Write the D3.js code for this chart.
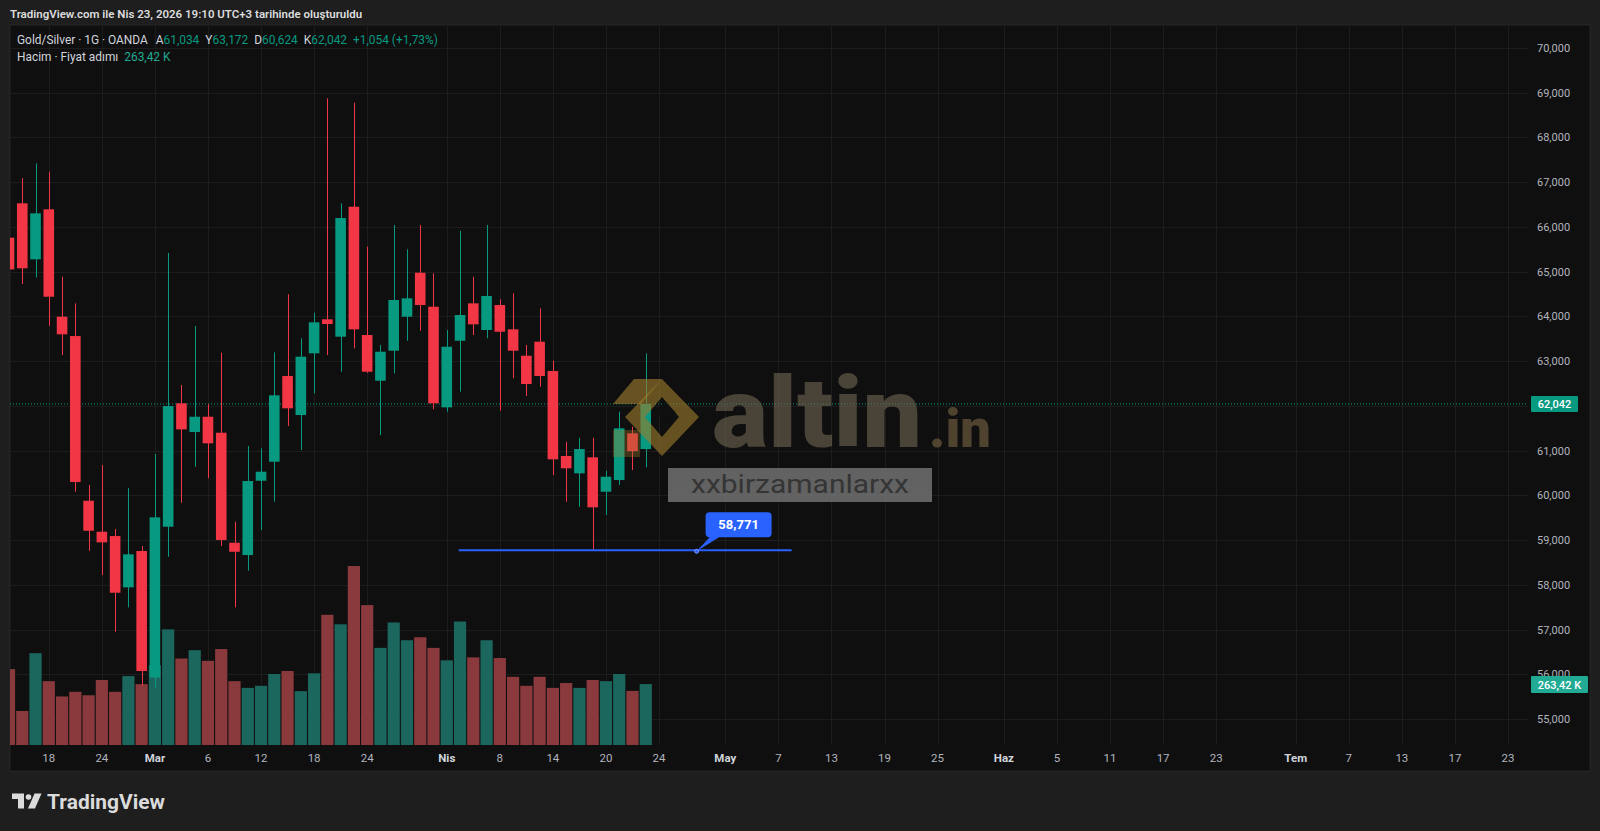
<!DOCTYPE html>
<html>
<head>
<meta charset="utf-8">
<script src="https://cdn.jsdelivr.net/npm/d3@7"></script>
<style>
    html, body { margin: 0; padding: 0; background: #1e1e1e; overflow: hidden; }
    svg { display: block; font-family: Roboto, "Liberation Sans", Arial, sans-serif; }
</style>
</head>
<body>
<svg id="chart" width="1600" height="831"></svg>
<script>
// daily bars, OANDA Gold/Silver (session index = position on the time axis)
const dates = [
    '2026-02-13', '2026-02-16', '2026-02-17', '2026-02-18', '2026-02-19', '2026-02-20', '2026-02-23',
    '2026-02-24', '2026-02-25', '2026-02-26', '2026-02-27', '2026-03-02', '2026-03-03', '2026-03-04',
    '2026-03-05', '2026-03-06', '2026-03-09', '2026-03-10', '2026-03-11', '2026-03-12', '2026-03-13',
    '2026-03-16', '2026-03-17', '2026-03-18', '2026-03-19', '2026-03-20', '2026-03-23', '2026-03-24',
    '2026-03-25', '2026-03-26', '2026-03-27', '2026-03-30', '2026-03-31', '2026-04-01', '2026-04-02',
    '2026-04-06', '2026-04-07', '2026-04-08', '2026-04-09', '2026-04-10', '2026-04-13', '2026-04-14',
    '2026-04-15', '2026-04-16', '2026-04-17', '2026-04-20', '2026-04-21', '2026-04-22', '2026-04-23'
]
const opens = [
    65.76, 66.528, 65.276, 66.394, 63.993, 63.561, 59.879, 59.186, 59.090, 57.943, 58.755, 55.927,
    59.298, 62.057, 61.415, 61.757, 61.399, 58.940, 58.665, 60.326, 60.751, 62.667, 61.795, 63.175,
    63.935, 63.546, 66.452, 63.584, 62.562, 63.233, 63.993, 64.976, 64.216, 61.967, 63.456, 64.292,
    63.696, 64.254, 63.711, 63.121, 63.434, 62.779, 60.879, 60.492, 60.850, 60.080, 60.342, 61.386, 61.034
]
const highs = [
    65.85, 67.094, 67.422, 67.234, 64.887, 64.292, 60.230, 60.677, 59.247, 60.163, 58.867, 60.923,
    65.417, 62.466, 63.785, 62.041, 63.188, 59.410, 61.102, 61.051, 63.197, 64.494, 63.510, 64.082,
    68.875, 66.528, 68.777, 65.558, 63.360, 66.043, 65.500, 66.043, 64.963, 63.696, 65.915, 64.887,
    66.043, 64.382, 64.516, 63.360, 64.181, 63.009, 61.198, 61.288, 61.288, 60.550, 61.869, 61.534, 63.172
]
const lows = [
    64.95, 64.724, 64.874, 63.792, 63.137, 60.080, 58.761, 58.218, 56.951, 57.496, 55.740, 55.700,
    58.627, 59.834, 60.639, 60.380, 58.867, 57.496, 58.314, 59.224, 59.857, 61.549, 61.013, 62.280,
    63.137, 62.763, 63.286, 62.740, 61.348, 62.727, 63.456, 63.680, 61.923, 61.869, 62.316, 63.584,
    63.510, 61.891, 62.616, 62.220, 62.428, 60.454, 59.857, 59.745, 58.771, 59.560, 60.230, 60.566, 60.624
]
const closes = [
    65.05, 65.075, 66.304, 64.440, 63.599, 60.297, 59.208, 58.949, 57.822, 58.681, 56.072, 59.508,
    61.996, 61.475, 61.757, 61.163, 59.001, 58.739, 60.320, 60.528, 62.236, 61.945, 63.099, 63.868,
    63.830, 66.199, 63.711, 62.763, 63.210, 64.366, 64.404, 64.254, 62.057, 63.322, 64.031, 63.823,
    64.456, 63.657, 63.233, 62.488, 62.667, 60.805, 60.604, 61.035, 59.732, 60.416, 61.498, 60.988, 62.042
]
// volume in thousands
const volumes = [
    328, 147, 397, 276, 210, 230, 215, 281, 230, 298, 263, 345, 500, 374, 410, 364, 415, 276, 247,
    256, 307, 320, 233, 310, 563, 522, 774, 605, 420, 530, 453, 466, 420, 366, 534, 379, 453, 376,
    295, 256, 295, 247, 268, 247, 281, 276, 307, 234, 263.42
]

const timeTickIndex = [3, 7, 11, 15, 19, 23, 27, 33, 37, 41, 45, 49, 54, 58, 62, 66, 70, 75, 79, 83, 87, 91, 97, 101, 105, 109, 113]
const timeTickLabels = ['18', '24', 'Mar', '6', '12', '18', '24', 'Nis', '8', '14', '20', '24', 'May', '7', '13', '19', '25', 'Haz', '5', '11', '17', '23', 'Tem', '7', '13', '17', '23']
const monthLabels = ['Mar', 'Nis', 'May', 'Haz', 'Tem']
const priceTicks = [55, 56, 57, 58, 59, 60, 61, 62, 63, 64, 65, 66, 67, 68, 69, 70]
const markedLow = 58.771
const markedLowIndex = 44

const upColor = '#089981', downColor = '#f23645'
const upVol = '#1b675d', downVol = '#8a3a3c'

const tr = d3.formatLocale({ decimal: ',', thousands: '.', grouping: [3], currency: ['', ''] })
const fmtPrice = tr.format('.3f')
const fmtPct = tr.format('+.2f')

const bars = dates.map((d, i) => ({
    date: d, i, o: opens[i], h: highs[i], l: lows[i], c: closes[i], v: volumes[i]
}))
const last = bars[bars.length - 1]
const prev = bars[bars.length - 2]

const plot = { left: 10, right: 1528, top: 26, bottom: 745 }

const x = d3.scaleLinear().domain([0, 113]).range([9, 1508])
const y = d3.scaleLinear().domain([55, 70]).range([719, 48])
const yVol = d3.scaleLinear().domain([0, 800]).range([745, 560])

const svg = d3.select('#chart')

svg.append('rect').attr('width', 1600).attr('height', 831).attr('fill', '#1e1e1e')
svg.append('rect')
    .attr('x', plot.left).attr('y', plot.top - 1)
    .attr('width', 1590 - plot.left).attr('height', 771 - plot.top + 1)
    .attr('fill', '#0f0f0f').attr('stroke', '#262626')

svg.append('defs').append('clipPath').attr('id', 'plotClip')
    .append('rect')
    .attr('x', plot.left).attr('y', plot.top)
    .attr('width', plot.right - plot.left).attr('height', plot.bottom - plot.top)

// grid
const grid = svg.append('g').attr('stroke', '#1d1d1d').attr('stroke-width', 1)
grid.selectAll('line.h')
    .data(priceTicks)
    .join('line')
    .attr('class', 'h')
    .attr('x1', plot.left).attr('x2', plot.right)
    .attr('y1', d => Math.round(y(d)) + 0.5).attr('y2', d => Math.round(y(d)) + 0.5)
grid.selectAll('line.v')
    .data(timeTickIndex)
    .join('line')
    .attr('class', 'v')
    .attr('x1', d => Math.round(x(d)) + 0.5).attr('x2', d => Math.round(x(d)) + 0.5)
    .attr('y1', plot.top).attr('y2', plot.bottom)

const chart = svg.append('g').attr('clip-path', 'url(#plotClip)')

// volume columns
chart.append('g').attr('class', 'volume')
    .selectAll('rect')
    .data(bars)
    .join('rect')
    .attr('x', d => x(d.i) - 6.1)
    .attr('width', 12.2)
    .attr('y', d => yVol(d.v))
    .attr('height', d => yVol(0) - yVol(d.v))
    .attr('fill', d => d.c >= d.o ? upVol : downVol)

// last price line
chart.append('line')
    .attr('x1', plot.left).attr('x2', plot.right)
    .attr('y1', y(last.c)).attr('y2', y(last.c))
    .attr('stroke', upColor).attr('stroke-dasharray', '1 2')

// candles
const candles = chart.append('g').attr('class', 'candles')
    .selectAll('g')
    .data(bars)
    .join('g')
    .attr('fill', d => d.c >= d.o ? upColor : downColor)
    .attr('stroke', d => d.c >= d.o ? upColor : downColor)

candles.append('line')
    .attr('x1', d => Math.round(x(d.i)) + 0.5).attr('x2', d => Math.round(x(d.i)) + 0.5)
    .attr('y1', d => y(d.h)).attr('y2', d => y(d.l))
    .attr('stroke-width', 1)

candles.append('rect')
    .attr('stroke', 'none')
    .attr('x', d => x(d.i) - 5.3)
    .attr('width', 10.6)
    .attr('y', d => y(Math.max(d.o, d.c)))
    .attr('height', d => Math.max(1, Math.abs(y(d.o) - y(d.c))))

// low marker line with callout
const lowY = y(markedLow)
chart.append('line')
    .attr('x1', x(markedLowIndex - 10.1)).attr('x2', x(markedLowIndex + 15))
    .attr('y1', lowY).attr('y2', lowY)
    .attr('stroke', '#2962ff').attr('stroke-width', 2)

const calloutX = x(markedLowIndex + 11)
const callout = svg.append('g')
callout.append('path')
    .attr('d', `M${calloutX - 28},${lowY - 14} L${calloutX - 18},${lowY - 14} L${calloutX - 42},${lowY + 1} Z`)
    .attr('fill', '#2962ff')
callout.append('circle')
    .attr('cx', calloutX - 42).attr('cy', lowY + 1).attr('r', 2)
    .attr('fill', '#2962ff').attr('stroke', '#8fa8ff').attr('stroke-width', 0.8)
callout.append('rect')
    .attr('x', calloutX - 33).attr('y', lowY - 38)
    .attr('width', 66).attr('height', 25).attr('rx', 4)
    .attr('fill', '#2962ff')
callout.append('text')
    .attr('x', calloutX).attr('y', lowY - 21)
    .attr('text-anchor', 'middle')
    .attr('fill', '#ffffff').attr('font-size', 13).attr('font-weight', 700)
    .text(fmtPrice(markedLow))

// watermark
const wm = svg.append('g').attr('class', 'watermark')
wm.append('path')
    .attr('d', 'M613,404 L634,379 L662,379 L641,404 Z')
    .attr('fill', 'rgba(160,125,45,0.62)')
wm.append('path')
    .attr('d', 'M662,379 L699,417 L662,456 L625,417 Z M662,397 L645,417 L662,437 L679,417 Z')
    .attr('fill', 'rgba(160,125,45,0.6)').attr('fill-rule', 'evenodd')
wm.append('path')
    .attr('d', 'M655,410 L666,402 L676,413 L665,421 Z')
    .attr('fill', 'rgba(15,15,15,0.85)')
wm.append('path')
    .attr('d', 'M613,430 L640,430 L640,457 L613,457 Z')
    .attr('fill', 'rgba(160,125,45,0.35)')
wm.append('text')
    .attr('x', 712).attr('y', 447)
    .attr('font-size', 98).attr('font-weight', 900)
    .attr('textLength', 210).attr('lengthAdjust', 'spacingAndGlyphs')
    .attr('fill', 'rgba(112,102,82,0.62)')
    .text('altin')
wm.append('text')
    .attr('x', 929).attr('y', 447)
    .attr('font-size', 54).attr('font-weight', 900)
    .attr('textLength', 62).attr('lengthAdjust', 'spacingAndGlyphs')
    .attr('fill', 'rgba(120,100,70,0.62)')
    .text('.in')

wm.append('rect')
    .attr('x', 668).attr('y', 468).attr('width', 264).attr('height', 34)
    .attr('fill', 'rgba(110,110,110,0.88)')
wm.append('text')
    .attr('x', 800).attr('y', 493)
    .attr('text-anchor', 'middle')
    .attr('font-size', 25)
    .attr('textLength', 218).attr('lengthAdjust', 'spacingAndGlyphs')
    .attr('fill', '#353535')
    .text('xxbirzamanlarxx')

// price axis
svg.append('g').attr('class', 'priceAxis')
    .selectAll('text')
    .data(priceTicks)
    .join('text')
    .attr('x', 1537)
    .attr('y', d => y(d) + 4)
    .attr('font-size', 11)
    .attr('fill', '#b2b5be')
    .text(d => fmtPrice(d))

svg.append('rect')
    .attr('x', 1531).attr('y', y(last.c) - 8).attr('width', 47).attr('height', 16).attr('rx', 1)
    .attr('fill', upColor)
svg.append('text')
    .attr('x', 1554.5).attr('y', y(last.c) + 4)
    .attr('text-anchor', 'middle')
    .attr('font-size', 11).attr('font-weight', 500).attr('fill', '#ffffff')
    .text(fmtPrice(last.c))

svg.append('rect')
    .attr('x', 1531).attr('y', yVol(last.v) - 8).attr('width', 57).attr('height', 17).attr('rx', 1)
    .attr('fill', '#22ab94')
svg.append('text')
    .attr('x', 1559.5).attr('y', yVol(last.v) + 4.5)
    .attr('text-anchor', 'middle')
    .attr('font-size', 11).attr('font-weight', 500).attr('fill', '#ffffff')
    .text(`${tr.format('.2f')(last.v)} K`)

// time axis
svg.append('g').attr('class', 'timeAxis')
    .selectAll('text')
    .data(timeTickIndex)
    .join('text')
    .attr('x', d => x(d))
    .attr('y', 762)
    .attr('text-anchor', 'middle')
    .attr('font-size', 11.5)
    .attr('font-weight', (d, i) => monthLabels.includes(timeTickLabels[i]) ? 700 : 400)
    .attr('fill', (d, i) => monthLabels.includes(timeTickLabels[i]) ? '#d1d4dc' : '#b2b5be')
    .text((d, i) => timeTickLabels[i])

// header
svg.append('text')
    .attr('x', 10).attr('y', 18)
    .attr('font-size', 11.5).attr('font-weight', 600)
    .attr('fill', '#dcdcdc')
    .text('TradingView.com ile Nis 23, 2026 19:10 UTC+3 tarihinde oluşturuldu')

// legend
const legend = svg.append('text')
    .attr('x', 17).attr('y', 44)
    .attr('font-size', 11.9)
    .attr('fill', '#d1d4dc')
legend.append('tspan').text('Gold/Silver · 1G · OANDA')
const ohlc = [['A', last.o], ['Y', last.h], ['D', last.l], ['K', last.c]]
ohlc.forEach(([k, v], i) => {
    legend.append('tspan').attr('dx', i === 0 ? 8 : 6).text(k)
    legend.append('tspan').attr('fill', upColor).text(fmtPrice(v))
})
const change = last.c - prev.c
legend.append('tspan').attr('dx', 6).attr('fill', upColor)
    .text(`${change >= 0 ? '+' : ''}${fmtPrice(change)} (${fmtPct(change / prev.c * 100)}%)`)

const legend2 = svg.append('text')
    .attr('x', 17).attr('y', 61)
    .attr('font-size', 11.9)
    .attr('fill', '#d1d4dc')
legend2.append('tspan').text('Hacim · Fiyat adımı')
legend2.append('tspan').attr('dx', 6).attr('fill', '#22ab94').text(`${tr.format('.2f')(last.v)} K`)

// TradingView logo
const logo = svg.append('g').attr('fill', '#dbdbdb')
logo.append('path').attr('d', 'M12,793.5 H24 V808.5 H18 V799 H12 Z')
logo.append('circle').attr('cx', 28.5).attr('cy', 797).attr('r', 2.8)
logo.append('path').attr('d', 'M34.5,793.5 H41.5 L35,808.5 H28 Z')
logo.append('text')
    .attr('x', 47).attr('y', 808.5)
    .attr('font-size', 20.5).attr('font-weight', 700)
    .attr('textLength', 118).attr('lengthAdjust', 'spacingAndGlyphs')
    .text('TradingView')
</script>
</body>
</html>
